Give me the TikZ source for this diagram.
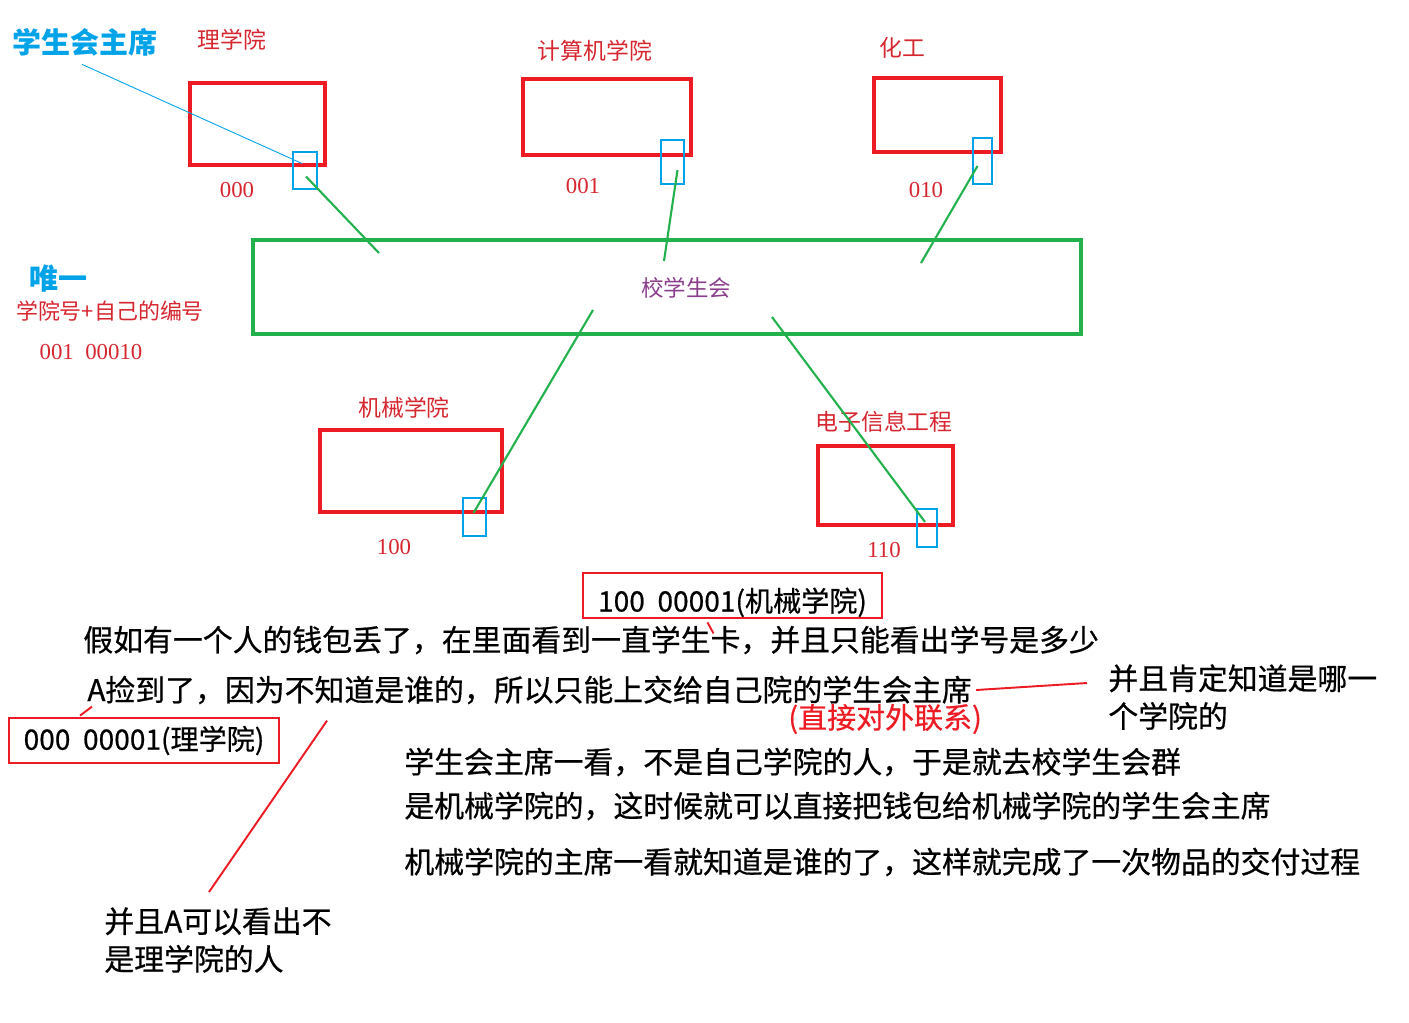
\documentclass[tikz,border=0pt]{standalone}
\usepackage{fontspec}
\setmainfont{Noto Sans CJK SC}
\newfontfamily\heavy{Noto Sans CJK SC}[FakeBold=0.6]
\newfontfamily\serifnum{Liberation Serif}
\usetikzlibrary{positioning,calc}
\definecolor{paintred}{RGB}{237,28,36}
\definecolor{labelred}{RGB}{214,38,48}
\definecolor{paintblue}{RGB}{0,162,232}
\definecolor{paintgreen}{RGB}{34,177,76}
\definecolor{unionpurple}{RGB}{138,62,140}

\begin{document}
\begin{tikzpicture}[x=0.02cm,y=-0.02cm,
		college/.style={draw=paintred, line width=2pt, inner sep=0pt},
		chairbox/.style={draw=paintblue, line width=1.5pt, inner sep=0pt},
		union/.style={draw=paintgreen, line width=2.5pt, inner sep=0pt},
		link/.style={paintgreen, line width=1.2pt},
		redlink/.style={paintred, line width=1.1pt},
		cname/.style={text=labelred, font=\fontsize{13}{15}\selectfont, inner sep=0pt},
		code/.style={text=labelred, font=\serifnum\fontsize{13}{15}\selectfont, inner sep=0pt},
		say/.style={font=\heavy\fontsize{17}{21.5}\selectfont, inner sep=0pt, anchor=west, align=left},
		idbox/.style={draw=paintred, line width=1.6pt, font=\heavy\fontsize{16}{19}\selectfont, inner sep=0pt}]
	
	\useasboundingbox (0,0) rectangle (1409,1022);
	
	% Left notes
	\node[inner sep=0pt, text=paintblue, font=\bfseries\fontsize{16.5}{19}\selectfont] (chair) at (85,42) {学生会主席};
	\node[inner sep=0pt, text=paintblue, font=\bfseries\fontsize{16.5}{19}\selectfont] (unique) at (58,279) {唯一};
	\node[cname, font=\fontsize{12.5}{15}\selectfont] (rule) at (110,311) {学院号+自己的编号};
	\node[code] (example) at (91,352) {001\ \ 00010};
	
	% Colleges
	\node[college, minimum width=2.70cm, minimum height=1.64cm] (lxy) at (257.5,124) {};
	\node[college, minimum width=3.36cm, minimum height=1.52cm] (jsj) at (607,117) {};
	\node[college, minimum width=2.54cm, minimum height=1.48cm] (hg) at (937.5,115) {};
	\node[college, minimum width=3.64cm, minimum height=1.64cm] (jx) at (411,471) {};
	\node[college, minimum width=2.70cm, minimum height=1.58cm] (dz) at (885.5,485.5) {};
	
	\node[cname] at (232,40) {理学院};
	\node[cname] at (595,51) {计算机学院};
	\node[cname] at (902,48) {化工};
	\node[cname] at (404,408) {机械学院};
	\node[cname] at (884,422) {电子信息工程};
	
	\node[code] at (237,190) {000};
	\node[code] at (583,186) {001};
	\node[code] at (926,190) {010};
	\node[code] at (394,547) {100};
	\node[code] at (884,550) {110};
	
	% Chairs of each college
	\node[chairbox, minimum width=0.48cm, minimum height=0.74cm] (b1) at (305,170.5) {};
	\node[chairbox, minimum width=0.46cm, minimum height=0.88cm] (b2) at (672.5,162) {};
	\node[chairbox, minimum width=0.38cm, minimum height=0.92cm] (b3) at (982.5,161) {};
	\node[chairbox, minimum width=0.46cm, minimum height=0.76cm] (b4) at (474.5,517) {};
	\node[chairbox, minimum width=0.40cm, minimum height=0.76cm] (b5) at (927,528) {};
	
	\draw[paintblue, line width=0.5pt] ($(chair.south)+(-3,8)$) -- ($(b1.center)+(-3,-7)$);
	
	% School union
	\node[union, minimum width=16.56cm, minimum height=1.88cm] (xsh) at (667,287) {};
	\node[inner sep=0pt, text=unionpurple, font=\fontsize{12.8}{15}\selectfont] (xshname) at (686,288) {校学生会};
	
	\coordinate (u1) at (379,253);
	\coordinate (u2) at (664,261);
	\coordinate (u3) at (921,263);
	\coordinate (u4) at (593,310);
	\coordinate (u5) at (772,317);
	
	\draw[link] ($(b1.center)+(1,6)$) -- (u1);
	\draw[link] ($(b2.center)+(5,8)$) -- (u2);
	\draw[link] ($(b3.center)+(-5,5)$) -- (u3);
	\draw[link] (u4) -- ($(b4.center)+(-1,-4)$);
	\draw[link] (u5) -- ($(b5.center)+(-2,-6)$);
	
	% Student cards
	\node[idbox, minimum width=5.98cm, minimum height=0.9cm] (box100) at (732.5,595.5) {\raisebox{-0.11cm}[0.49cm][0.07cm]{100\ \ 00001(机械学院)}};
	\node[idbox, minimum width=5.4cm, minimum height=0.9cm] (box000) at (144,740.5) {000\ \ 00001(理学院)};
	
	% Story
	\node[say] (line1) at (83,640) {假如有一个人的钱包丢了，在里面看到一直学生卡，并且只能看出学号是多少};
	\node[say] (line2) at (87,690) {A捡到了，因为不知道是谁的，所以只能上交给自己院的学生会主席};
	\node[say, text=paintred, font=\heavy\fontsize{16.5}{20}\selectfont] (direct) at (788,719) {(直接对外联系)};
	\node[say, anchor=north west] (note1) at (1108,664) {并且肯定知道是哪一\\个学院的};
	\node[say, anchor=north west] (note2) at (104,907) {并且A可以看出不\\是理学院的人};
	\node[say] (line3) at (404,762) {学生会主席一看，不是自己学院的人，于是就去校学生会群};
	\node[say] (line4) at (404,806) {是机械学院的，这时候就可以直接把钱包给机械学院的学生会主席};
	\node[say] (line5) at (404,862) {机械学院的主席一看就知道是谁的了，这样就完成了一次物品的交付过程};
	
	\draw[redlink] ($(box100.south)+(-25,3)$) -- ($(box100.south)+(-19,14)$);
	\draw[redlink] ($(box000.north)+(-64,-1)$) -- ($(box000.north)+(-52,-10)$);
	\draw[redlink] ($(line2.east)+(4,0)$) -- ($(note1.north west)+(-21,19)$);
	\draw[redlink] ($(line2.south west)+(240,16)$) -- ($(note2.north west)+(105,-15)$);
	
\end{tikzpicture}
\end{document}
